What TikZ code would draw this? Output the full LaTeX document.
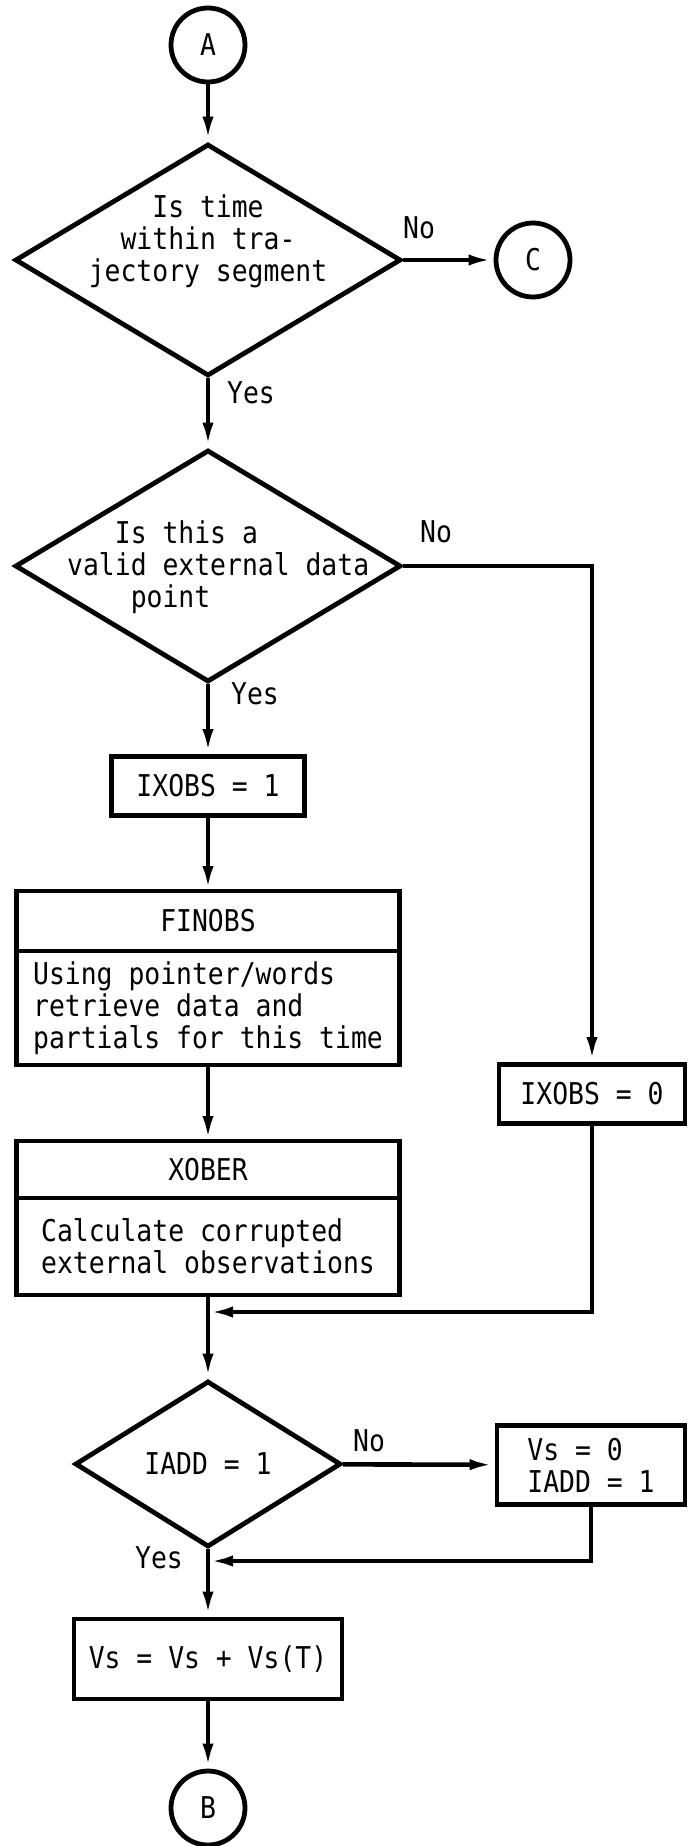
\documentclass[tikz,border=0pt]{standalone}
\usepackage{fontspec}
\setmainfont{DejaVu Sans Mono}[FakeStretch=0.88]
\usetikzlibrary{shapes.geometric,positioning,arrows.meta}

\begin{document}
\begin{tikzpicture}[x=1pt,y=-1pt,
  every node/.style={font=\fontsize{30}{32}\selectfont},
  conn/.style={draw,circle,line width=4.8pt,minimum size=74pt,inner sep=0pt},
  decision/.style={draw,diamond,line width=4.8pt,inner sep=0pt},
  proc/.style={draw,rectangle,line width=4.8pt,inner sep=0pt},
  lbl/.style={inner sep=0pt},
  arr/.style={line width=4.6pt,-{Latex[length=25pt,width=11pt]}}]
\useasboundingbox (0,0) rectangle (688,1846);

%入口
\node[conn] (A) at (208,45) {A};

%第一个判断
\node[decision,minimum width=386pt,minimum height=232pt] (d1) at (208,260) {};
\node[lbl,align=center] (d1txt) at (208,241) {Is time\\within tra-\\jectory segment};
\node[conn] (C) at (533,260) {C};
\node[lbl] (no1) at (419,228) {No};
\node[lbl] (yes1) at (251,393) {Yes};

%第二个判断
\node[decision,minimum width=386pt,minimum height=232pt] (d2) at (208,566) {};
\node[lbl,align=left,anchor=west] (d2txt) at (67,567) {\hphantom{val}Is this a\\valid external data\\\hphantom{vali}point};
\node[lbl] (no2) at (436,532) {No};
\node[lbl] (yes2) at (255,694) {Yes};

%左列
\node[proc,minimum width=193pt,minimum height=59pt] (ix1) at (208,786) {IXOBS = 1};
\node[proc,minimum width=383pt,minimum height=60pt,outer sep=0pt] (fin) at (208,921) {FINOBS};
\node[proc,minimum width=383pt,minimum height=114pt,outer sep=0pt,align=left,below=0pt of fin] (finbody) {Using pointer/words\\retrieve data and\\partials for this time};
\node[proc,minimum width=383pt,minimum height=57pt,outer sep=0pt] (xob) at (208,1169.5) {XOBER};
\node[proc,minimum width=383pt,minimum height=97pt,outer sep=0pt,align=left,below=0pt of xob] (xobbody) {Calculate corrupted\\external observations};

%右列
\node[proc,minimum width=186pt,minimum height=59pt] (ix0) at (592,1094) {IXOBS = 0};

%第三个判断
\node[decision,minimum width=266pt,minimum height=166pt] (d3) at (208,1464) {IADD = 1};
\node[lbl] (no3) at (369,1441) {No};
\node[lbl] (yes3) at (159,1558) {Yes};
\node[proc,minimum width=188pt,minimum height=79pt,align=left] (vs0) at (591,1465) {Vs = 0\\IADD = 1};
\node[proc,minimum width=268pt,minimum height=80pt] (vsum) at (208,1659) {Vs = Vs + Vs(T)};

%出口
\node[conn] (B) at (208,1808) {B};

%汇合点
\coordinate (m1) at (208,1312);
\coordinate (m2) at (208,1561);

%连线
\draw[arr] (A)--(d1);
\draw[arr] (d1)--(C);
\draw[arr] (d1)--(d2);
\draw[arr] (d2.east) -| (ix0.north);
\draw[arr] (d2)--(ix1);
\draw[arr] (ix1)--(fin);
\draw[arr] (finbody)--(xob);
\draw[arr] (xobbody)--(d3);
\draw[arr] (ix0.south) |- (m1);

%IADD 分支
\draw[arr] (d3)--(vs0);
\draw[arr] (d3)--(vsum);
\draw[arr] (vs0.south) |- (m2);
\draw[arr] (vsum)--(B);
\end{tikzpicture}
\end{document}
